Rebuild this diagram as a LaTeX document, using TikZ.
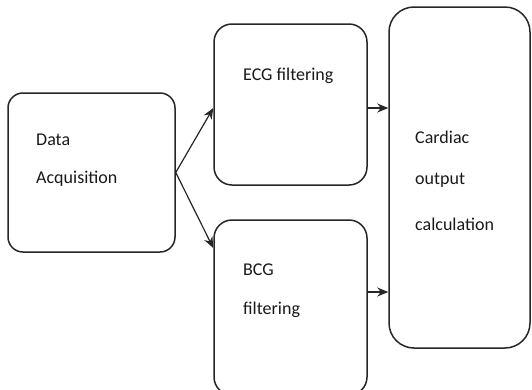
\documentclass[tikz,border=0pt]{standalone}
\usepackage{fontspec}
\setmainfont{Carlito}
\usetikzlibrary{arrows.meta}
\begin{document}
\begin{tikzpicture}[x=1pt,y=-1pt,
  box/.style={draw=black!85, line width=1.5pt, inner sep=0pt},
  lbl/.style={anchor=base west, inner sep=0pt, font=\fontsize{18}{20}\selectfont, text=black!90},
  conn/.style={draw=black!85, line width=1.2pt, -{Stealth[length=11pt,width=9pt]}}]
\useasboundingbox (0,0) rectangle (532,389);
\begin{scope}
\clip (0,0) rectangle (532,389);
\node[box, rounded corners=15pt, minimum width=167pt, minimum height=159pt] (data) at (91.5,172.5) {};
\node[box, rounded corners=18pt, minimum width=153pt, minimum height=161pt] (ecg) at (290.5,104.5) {};
\node[box, rounded corners=18pt, minimum width=153pt, minimum height=175pt] (bcg) at (290.5,307.5) {};
\node[box, rounded corners=25pt, minimum width=141pt, minimum height=341pt] (card) at (459.5,177.5) {};
\end{scope}
\node[lbl] (t1) at (36,145) {Data};
\node[lbl] (t2) at (36,183) {Acquisition};
\node[lbl] (t3) at (243,80) {ECG filtering};
\node[lbl] (t4) at (243,275) {BCG};
\node[lbl] (t5) at (243,314) {filtering};
\node[lbl] (t6) at (415,143) {Cardiac};
\node[lbl] (t7) at (415,184) {output};
\node[lbl] (t8) at (415,230) {calculation};
\coordinate (a1) at (ecg.west |- 0,108);
\coordinate (a2) at (bcg.north west |- 0,248);
\coordinate (b1) at (ecg.east |- 0,108);
\coordinate (b2) at (bcg.east |- 0,292);
\draw[conn] (data.east) -- (a1);
\draw[conn] (data.east) -- (a2);
\draw[conn] (b1) -- (card.west |- b1);
\draw[conn] (b2) -- (card.west |- b2);
\end{tikzpicture}
\end{document}
